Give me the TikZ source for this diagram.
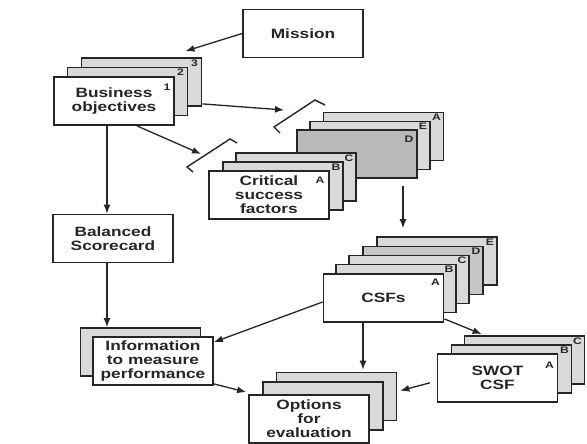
\documentclass[tikz,border=0pt]{standalone}
\usepackage{fontspec}
\newfontfamily\cardfont{Liberation Sans}[FakeStretch=1.28]
\usetikzlibrary{arrows.meta}
\tikzset{
  card/.style={draw=black!85, line width=1.8pt, fill=white, minimum width=120pt, minimum height=48pt,
    inner sep=0pt, align=center, text=black!85, font=\cardfont\bfseries\fontsize{13.5}{14}\selectfont},
  backcard/.style={card, fill=gray!30},
  darkcard/.style={card, fill=gray!55},
  midcard/.style={card, fill=gray!45},
  tag/.style={inner sep=0pt, text=black!85, font=\cardfont\bfseries\fontsize{9.5}{9.5}\selectfont},
  arr/.style={-{Latex[length=9pt,width=7pt]}, line width=1.3pt, draw=black!85},
  bracket/.style={line width=1.4pt, draw=black!85, line join=miter}
}
\begin{document}
\begin{tikzpicture}[x=1pt,y=-1pt]
\useasboundingbox[fill=white] (0,0) rectangle (587,444);

% Mission
\node[card] (M) at (303,33.5) {Mission};

% Business objectives stack
\node[backcard] (B3) at (141.5,82) {};
\node[tag] (tb3) at ([shift={(-8,6)}]B3.north east) {3};
\node[backcard] (B2) at (127.5,91.5) {};
\node[tag] (tb2) at ([shift={(-8,6)}]B2.north east) {2};
\node[card] (B1) at (114,101) {Business\\objectives};
\node[tag] (tb1) at ([shift={(-8,11)}]B1.north east) {1};

% rear stack A E D
\node[backcard] (L3) at (383.5,136.5) {};
\node[tag] (tl3) at ([shift={(-8,6)}]L3.north east) {A};
\node[backcard] (L2) at (370,145.5) {};
\node[tag] (tl2) at ([shift={(-8,6)}]L2.north east) {E};
\node[darkcard] (L1) at (357,154) {};
\node[tag] (tl1) at ([shift={(-9,10)}]L1.north east) {D};

% Critical success factors stack
\node[backcard] (K3) at (296,177) {};
\node[tag] (tk3) at ([shift={(-8,6)}]K3.north east) {C};
\node[backcard] (K2) at (283,186) {};
\node[tag] (tk2) at ([shift={(-8,6)}]K2.north east) {B};
\node[card] (K1) at (269,195) {Critical\\success\\factors};
\node[tag] (tk1) at ([shift={(-10,10)}]K1.north east) {A};

% Balanced scorecard
\node[card] (BS) at (113,238.5) {Balanced\\Scorecard};

% CSFs stack
\node[backcard] (C5) at (437,261) {};
\node[tag] (tc5) at ([shift={(-8,6)}]C5.north east) {E};
\node[midcard] (C4) at (423,270.5) {};
\node[tag] (tc4) at ([shift={(-8,6)}]C4.north east) {D};
\node[backcard] (C3) at (409,279.5) {};
\node[tag] (tc3) at ([shift={(-8,6)}]C3.north east) {C};
\node[backcard] (C2) at (396,288.5) {};
\node[tag] (tc2) at ([shift={(-8,6)}]C2.north east) {B};
\node[card] (C1) at (383.5,298) {CSFs};
\node[tag] (tc1) at ([shift={(-9,9)}]C1.north east) {A};

% Information stack
\node[backcard] (I2) at (140.5,352) {};
\node[card] (I1) at (153,361) {Information\\to measure\\performance};

% Options stack
\node[backcard] (O3) at (336.5,396.5) {};
\node[backcard] (O2) at (323,406) {};
\node[card] (O1) at (309,419) {Options\\for\\evaluation};

% SWOT stack
\node[backcard] (S3) at (524.5,360) {};
\node[tag] (ts3) at ([shift={(-8,6)}]S3.north east) {C};
\node[backcard] (S2) at (511.5,369) {};
\node[tag] (ts2) at ([shift={(-8,6)}]S2.north east) {B};
\node[card] (S1) at (497.5,378) {SWOT\\CSF};
\node[tag] (ts1) at ([shift={(-9,12)}]S1.north east) {A};

% brackets
\draw[bracket] (280,133) -- (274,127) -- (315,100) -- (325,105);
\draw[bracket] (193,172) -- (187,167) -- (230,139) -- (237,143);
\coordinate (k1) at (284,110);
\coordinate (k2) at (201,154);

% connectors
\draw[arr] (M.west) -- ([shift={(44,-6)}]B3.north);
\draw[arr] ([yshift=3pt]B3.south east) -- (k1);
\draw[arr] ([xshift=23pt]B1.south) -- (k2);
\draw[arr] ([xshift=-7pt]B1.south) -- ([xshift=-7pt]B1.south |- BS.north);
\draw[arr] ([xshift=-6pt]BS.south) -- ([xshift=-6pt]BS.south |- I2.north);
\draw[arr] ([shift={(46,7)}]L1.south) -- ([shift={(-34,-8)}]C5.north);
\draw[arr] ([yshift=-4pt]C1.west) -- ([yshift=-6pt]I1.north east);
\draw[arr] ([yshift=2pt]I1.south east) -- ([shift={(-2,-2)}]O1.north west);
\draw[arr, shorten >=2pt] ([xshift=-20.5pt]C1.south) -- ([xshift=-20.5pt]C1.south |- O3.north);
\draw[arr] ([yshift=4pt]C1.south east) -- ([shift={(18,-1)}]S3.north west);
\draw[arr, shorten <=7pt, shorten >=3pt] ([yshift=-3pt]S1.west) -- ([yshift=5pt]O3.east);
\end{tikzpicture}
\end{document}
